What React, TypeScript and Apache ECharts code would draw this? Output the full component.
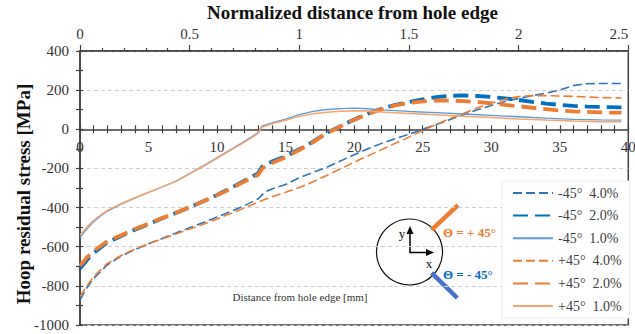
import React, { useEffect, useRef } from "react";
import * as echarts from "echarts";

const FONT = "Liberation Serif";

const seriesNames = ["-45°  4.0%", "-45°  2.0%", "-45°  1.0%", "+45°  4.0%", "+45°  2.0%", "+45°  1.0%"];

const minus45_4 = [
  [0, -872], [0.5, -810], [1, -762], [2, -692], [3, -648], [4, -615], [5, -585], [6, -558], [7, -530],
  [8, -503], [9, -476], [10, -448], [11, -420], [12, -390], [13, -355], [13.5, -320], [14, -305],
  [15, -282], [16, -248], [17, -220], [18, -194], [19, -162], [20, -130], [21, -100], [22, -72],
  [23, -48], [24, -25], [25, 0], [26, 25], [27, 50], [28, 76], [29, 100], [30, 122], [31, 142],
  [32, 158], [33, 172], [34, 185], [35, 200], [36, 224], [37, 233], [38, 234], [39.5, 234],
];
const minus45_2 = [
  [0, -712], [0.5, -668], [1, -632], [2, -578], [3, -545], [4, -513], [5, -485], [6, -455], [7, -428],
  [8, -398], [9, -368], [10, -335], [11, -300], [12, -262], [13, -225], [13.3, -190], [14, -165],
  [15, -138], [16, -102], [17, -63], [18, -18], [19, 16], [20, 50], [21, 80], [22, 105], [23, 125],
  [24, 139], [25, 153], [26, 164], [27, 171], [28, 173], [29, 170], [30, 165], [31, 158], [32, 150],
  [33, 140], [34, 131], [35, 125], [36, 120], [37, 116], [38, 114], [39.5, 112],
];
const minus45_1 = [
  [0, -552], [0.5, -510], [1, -472], [1.5, -443], [2, -418], [3, -382], [4, -352], [5, -323],
  [6, -295], [7, -265], [8, -226], [9, -186], [10, -145], [11, -104], [12, -62], [12.9, -22],
  [13.3, 18], [14, 33], [15, 52], [16, 75], [17, 92], [18, 101], [19, 106], [20, 108], [21, 105],
  [22, 99], [23, 95], [24, 91], [26, 85], [28, 78], [30, 71], [32, 64], [34, 57], [36, 51], [38, 48],
  [39.5, 47],
];
const plus45_4 = [
  [0, -855], [0.5, -800], [1, -752], [2, -685], [3, -645], [4, -612], [5, -585], [6, -560], [7, -535],
  [8, -510], [9, -485], [10, -458], [11, -430], [12, -402], [13, -372], [13.5, -358], [14, -345],
  [15, -322], [16, -298], [17, -268], [18, -236], [19, -202], [20, -168], [21, -136], [22, -104],
  [23, -72], [24, -40], [25, -6], [26, 25], [27, 55], [28, 82], [29, 110], [30, 134], [31, 154],
  [32, 167], [33, 172], [34, 172], [35, 170], [36, 168], [37, 165], [38, 162], [39.5, 160],
];
const plus45_2 = [
  [0, -698], [0.5, -655], [1, -622], [2, -572], [3, -541], [4, -510], [5, -482], [6, -453], [7, -427],
  [8, -398], [9, -368], [10, -337], [11, -303], [12, -267], [13, -232], [13.3, -200], [14, -172],
  [15, -143], [16, -106], [17, -66], [18, -20], [19, 14], [20, 48], [21, 78], [22, 102], [23, 122],
  [24, 135], [25, 143], [26, 147], [27, 147], [28, 144], [29, 139], [30, 133], [31, 125], [32, 118],
  [33, 110], [34, 103], [35, 96], [36, 92], [37, 89], [38, 86], [39.5, 85],
];
const plus45_1 = [
  [0, -540], [0.5, -500], [1, -465], [1.5, -438], [2, -414], [3, -380], [4, -350], [5, -322],
  [6, -294], [7, -266], [8, -228], [9, -189], [10, -148], [11, -107], [12, -66], [12.9, -26],
  [13.3, 12], [14, 28], [15, 46], [16, 66], [17, 79], [18, 87], [19, 92], [20, 95], [21, 93],
  [22, 88], [24, 81], [26, 74], [28, 67], [30, 60], [32, 53], [34, 47], [36, 42], [38, 39], [39.5, 38],
];

const seriesData = [minus45_4, minus45_2, minus45_1, plus45_4, plus45_2, plus45_1];

const mmRange = [0, 40];
const normRange = [0, 2.5];
const stressRange = [-1000, 400];

const lineStyles = [
  { color: "#2E75B6", width: 1.6, type: [9, 4] },
  { color: "#0070C0", width: 3.8, type: [15, 7] },
  { color: "#5B9BD5", width: 1.3, type: "solid" },
  { color: "#ED7D31", width: 1.6, type: [9, 4] },
  { color: "#ED7D31", width: 3.8, type: [15, 7] },
  { color: "#F4A46C", width: 1.5, type: "solid" },
];

const AXIS_COLOR = "#404040";
const W = 635;
const H = 334;
const PLOT_LEFT = 80;
const PLOT_RIGHT = 628.3;
const PLOT_TOP = 51;
const PLOT_BOTTOM = 325;

export default function App() {
  const ref = useRef<HTMLDivElement>(null);

  useEffect(() => {
    document.body.style.margin = "0";
    if (!ref.current) return;
    const chart = echarts.init(ref.current, undefined, { renderer: "svg" });

    const labelStyle = { fontFamily: FONT, fontSize: 15, color: "#333" };
    const tickLine = { color: AXIS_COLOR, width: 1.2 };
    const zeroY = PLOT_TOP + ((stressRange[1] - 0) / (stressRange[1] - stressRange[0])) * (PLOT_BOTTOM - PLOT_TOP);

    const fullBox = { left: PLOT_LEFT, right: W - PLOT_RIGHT, top: PLOT_TOP, bottom: H - PLOT_BOTTOM, outerBoundsMode: "none", containLabel: false };
    const upperBox = { left: PLOT_LEFT, right: W - PLOT_RIGHT, top: PLOT_TOP, bottom: H - zeroY, outerBoundsMode: "none", containLabel: false };

    const hiddenY = (gridIndex: number) => ({ type: "value", gridIndex, min: 0, max: 1, show: false });

    const option: any = {
      animation: false,
      backgroundColor: "#fff",
      grid: [
        { ...fullBox, show: true, borderColor: AXIS_COLOR, borderWidth: 1.5, backgroundColor: "transparent" },
        { ...fullBox, show: false },
        { ...upperBox, show: false },
        { ...upperBox, show: false },
      ],
      xAxis: [
        {
          type: "value", gridIndex: 0, min: mmRange[0], max: mmRange[1], show: false,
        },
        {
          type: "value", gridIndex: 0, min: normRange[0], max: normRange[1], interval: 0.5, position: "top",
          axisLine: { show: true, onZero: false, lineStyle: { color: AXIS_COLOR, width: 1.5 } },
          axisTick: { show: true, length: 6, lineStyle: tickLine },
          minorTick: { show: true, splitNumber: 5, length: 3, lineStyle: tickLine },
          axisLabel: { ...labelStyle, margin: 10, alignMaxLabel: "right" },
          splitLine: { show: false },
        },
        {
          type: "value", gridIndex: 1, min: mmRange[0], max: mmRange[1], show: false,
        },
        {
          type: "value", gridIndex: 2, min: mmRange[0], max: mmRange[1], interval: 5, position: "bottom",
          axisLine: { show: true, onZero: false, lineStyle: { color: AXIS_COLOR, width: 1.5 } },
          axisTick: { show: true, length: 4, lineStyle: tickLine },
          minorTick: { show: true, splitNumber: 5, length: 4, lineStyle: tickLine },
          axisLabel: { ...labelStyle, margin: 10 },
          splitLine: { show: false },
        },
        {
          type: "value", gridIndex: 3, min: mmRange[0], max: mmRange[1], interval: 5, position: "bottom",
          axisLine: { show: false, onZero: false },
          axisTick: { show: true, inside: true, length: 4, lineStyle: tickLine },
          minorTick: { show: true, splitNumber: 5, length: 4, lineStyle: tickLine },
          axisLabel: { show: false },
          splitLine: { show: false },
        },
      ],
      yAxis: [
        {
          type: "value", gridIndex: 0, min: stressRange[0], max: stressRange[1], interval: 200,
          axisLine: { show: true, onZero: false, lineStyle: { color: AXIS_COLOR, width: 1.5 } },
          axisTick: { show: true, length: 4, lineStyle: tickLine },
          minorTick: { show: true, splitNumber: 2, length: 4, lineStyle: tickLine },
          axisLabel: { ...labelStyle, margin: 11, formatter: (v: number) => String(v) },
          splitLine: { show: true, lineStyle: { color: "#d0d0d0", width: 1, type: [4, 3] } },
        },
        {
          type: "value", gridIndex: 1, min: stressRange[0], max: stressRange[1], interval: 200,
          axisLine: { show: false, onZero: false },
          axisTick: { show: true, inside: true, length: 3, lineStyle: tickLine },
          minorTick: { show: true, splitNumber: 2, length: 3, lineStyle: tickLine },
          axisLabel: { show: false },
          splitLine: { show: false },
        },
        hiddenY(2),
        hiddenY(3),
      ],
      legend: {
        orient: "vertical",
        left: 502,
        top: 181,
        itemWidth: 40,
        itemHeight: 14,
        itemGap: 8.6,
        padding: [5, 8, 5, 10],
        backgroundColor: "#fff",
        borderColor: "#ececec",
        borderWidth: 1,
        selectedMode: false,
        itemStyle: { opacity: 0 },
        textStyle: { fontFamily: FONT, fontSize: 14, color: "#404040" },
        data: seriesNames,
      },
      series: seriesNames.map((name, i) => ({
        name,
        type: "line",
        xAxisIndex: 0,
        yAxisIndex: 0,
        data: seriesData[i],
        symbol: "none",
        smooth: false,
        lineStyle: lineStyles[i],
        itemStyle: { color: lineStyles[i].color },
        z: 3,
      })),
      graphic: [
        {
          type: "text", x: 352.5, y: 12,
          style: {
            text: "Normalized distance from hole edge", font: `bold 19px ${FONT}`, fill: "#111",
            textAlign: "center", textVerticalAlign: "middle",
          },
        },
        {
          type: "text", x: 23, y: 194, rotation: Math.PI / 2,
          style: {
            text: "Hoop residual stress [MPa]", font: `bold 19px ${FONT}`, fill: "#111",
            textAlign: "center", textVerticalAlign: "middle",
          },
        },
        {
          type: "text", x: 300, y: 297,
          style: {
            text: "Distance from hole edge [mm]", font: `11px ${FONT}`, fill: "#333",
            textAlign: "center", textVerticalAlign: "middle",
          },
        },
        {
          type: "group", z: 10,
          children: [
            { type: "circle", shape: { cx: 409.5, cy: 252, r: 33 }, style: { fill: "#fff", stroke: "#111", lineWidth: 1.2 } },
            { type: "line", shape: { x1: 431.6, y1: 229.9, x2: 458, y2: 205.2 }, style: { stroke: "#ED7D31", lineWidth: 4.5 } },
            { type: "line", shape: { x1: 431.6, y1: 272.8, x2: 457.3, y2: 298 }, style: { stroke: "#4472C4", lineWidth: 4.5 } },
            { type: "line", shape: { x1: 410, y1: 252.5, x2: 410, y2: 232 }, style: { stroke: "#000", lineWidth: 1.5 } },
            { type: "polygon", shape: { points: [[410, 226], [406.5, 234], [413.5, 234]] }, style: { fill: "#000" } },
            { type: "line", shape: { x1: 409.3, y1: 252.5, x2: 428, y2: 252.5 }, style: { stroke: "#000", lineWidth: 1.5 } },
            { type: "polygon", shape: { points: [[434, 252.5], [426, 249], [426, 256]] }, style: { fill: "#000" } },
            { type: "text", x: 402, y: 233, style: { text: "y", font: `13px ${FONT}`, fill: "#111", textAlign: "center", textVerticalAlign: "middle" } },
            { type: "text", x: 429, y: 263, style: { text: "x", font: `13px ${FONT}`, fill: "#111", textAlign: "center", textVerticalAlign: "middle" } },
            { type: "text", x: 443, y: 232, style: { text: "Θ = + 45°", font: `bold 13px ${FONT}`, fill: "#ED7D31", textVerticalAlign: "middle" } },
            { type: "text", x: 443, y: 274.5, style: { text: "Θ = - 45°", font: `bold 13px ${FONT}`, fill: "#0070C0", textVerticalAlign: "middle" } },
          ],
        },
      ],
    };

    chart.setOption(option);
    return () => chart.dispose();
  }, []);

  return <div ref={ref} style={{ width: W, height: H }} />;
}
